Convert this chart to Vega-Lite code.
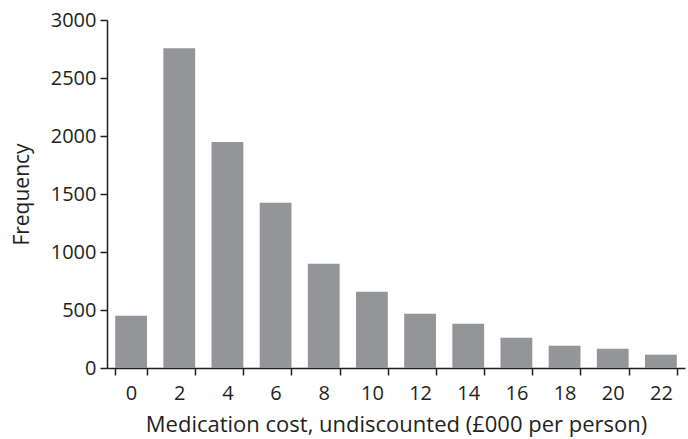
{
  "$schema": "https://vega.github.io/schema/vega-lite/v6.json",
  "width": 578,
  "height": 348,
  "autosize": {"type": "none"},
  "padding": {"left": 107, "top": 20, "right": 3, "bottom": 71},
  "background": "white",
  "config": {
    "view": {"stroke": null},
    "font": "Open Sans",
    "axis": {"domainColor": "#231f20", "tickColor": "#231f20", "labelColor": "#231f20", "titleColor": "#231f20", "grid": false, "labelFont": "Open Sans", "titleFont": "Open Sans", "titleFontWeight": "normal", "domainWidth": 1.5, "tickWidth": 1.5}
  },
  "data": {"values": [
    {"cost": "0", "freq": 450},
    {"cost": "2", "freq": 2756},
    {"cost": "4", "freq": 1949},
    {"cost": "6", "freq": 1424},
    {"cost": "8", "freq": 898},
    {"cost": "10", "freq": 657},
    {"cost": "12", "freq": 468},
    {"cost": "14", "freq": 382},
    {"cost": "16", "freq": 261},
    {"cost": "18", "freq": 192},
    {"cost": "20", "freq": 166},
    {"cost": "22", "freq": 115}
  ]},
  "mark": {"type": "bar", "color": "#939598"},
  "encoding": {
    "x": {
      "field": "cost", "type": "ordinal", "sort": null,
      "scale": {"paddingInner": 0.34, "paddingOuter": 0.17},
      "axis": {"title": "Medication cost, undiscounted (£000 per person)", "labelAngle": 0, "labelFontSize": 20, "titleFontSize": 22, "tickBand": "extent", "tickSize": 7, "labelPadding": 8, "titlePadding": 11}
    },
    "y": {
      "field": "freq", "type": "quantitative",
      "scale": {"domain": [0, 3000]},
      "axis": {"title": "Frequency", "format": "d", "values": [0, 500, 1000, 1500, 2000, 2500, 3000], "labelFontSize": 20, "titleFontSize": 21, "tickSize": 7, "labelPadding": 4, "titlePadding": 18}
    }
  }
}
